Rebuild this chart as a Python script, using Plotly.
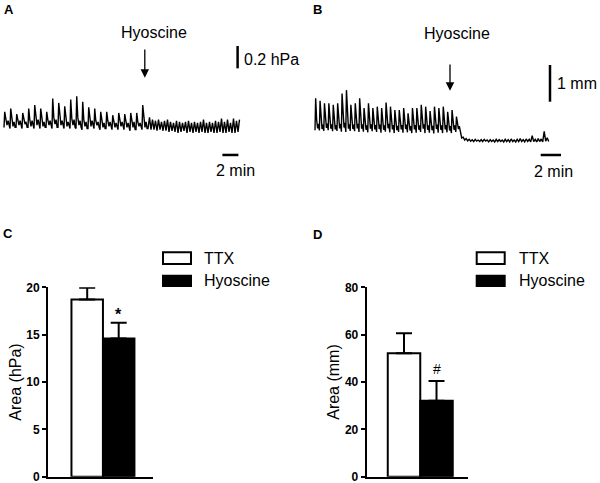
import plotly.graph_objects as go

W, H = 600, 483
FONT = "Liberation Sans, Arial, sans-serif"

# ---- panel A: pressure trace (hPa), per-cycle readings ----
a_pre_period = 0.75   # min per contraction before hyoscine
a_pre_trough = [0.05, 0.04, 0.05, 0.04, 0.05, 0.04, 0.04, 0.05, 0.04, 0.05, 0.04, 0.04,
                0.04, 0.03, 0.04, 0.04, 0.03, 0.04, 0.03, 0.03, 0.03, 0.02, 0.03, 0.03]
a_pre_peak = [0.19, 0.22, 0.17, 0.18, 0.22, 0.25, 0.22, 0.19, 0.31, 0.27, 0.24, 0.30,
              0.33, 0.28, 0.23, 0.22, 0.19, 0.19, 0.16, 0.18, 0.17, 0.18, 0.18, 0.25]
a_pre_shoulder = [0.13, 0.12, 0.12, 0.13, 0.12, 0.13, 0.12, 0.12, 0.14, 0.13, 0.12, 0.13,
                  0.14, 0.12, 0.12, 0.11, 0.12, 0.11, 0.11, 0.12, 0.10, 0.11, 0.10, 0.12]
a_pre_dip = [0.07, 0.06, 0.07, 0.08, 0.06, 0.07, 0.06, 0.07, 0.08, 0.07, 0.06, 0.07,
             0.07, 0.06, 0.06, 0.07, 0.05, 0.06, 0.05, 0.06, 0.05, 0.05, 0.06, 0.05]
a_pre_bump = [0.11, 0.10, 0.11, 0.10, 0.11, 0.12, 0.10, 0.11, 0.12, 0.11, 0.10, 0.12,
              0.11, 0.10, 0.11, 0.10, 0.09, 0.10, 0.09, 0.10, 0.09, 0.10, 0.09, 0.10]
a_pre_low = [0.06, 0.05, 0.06, 0.05, 0.06, 0.05, 0.05, 0.06, 0.05, 0.06, 0.05, 0.05,
             0.05, 0.04, 0.05, 0.05, 0.04, 0.05, 0.04, 0.04, 0.04, 0.03, 0.04, 0.04]
a_post_period = 0.375
a_post_peak = [0.14, 0.12, 0.11, 0.12, 0.10, 0.11, 0.12, 0.10, 0.09, 0.11, 0.10, 0.09, 0.10,
               0.11, 0.09, 0.10, 0.09, 0.10, 0.12, 0.09, 0.10, 0.09, 0.11, 0.10, 0.13, 0.10,
               0.12, 0.09, 0.13, 0.11, 0.12]
a_post_trough = [0.04, 0.03, 0.03, 0.02, 0.03, 0.02, 0.02, 0.01, 0.02, 0.01, 0.00, 0.01, 0.02,
                 0.00, 0.01, 0.00, 0.01, 0.00, 0.01, 0.00, 0.00, 0.01, 0.00, 0.00, 0.01, 0.00,
                 0.00, 0.01, 0.00, 0.00, 0.01]

# ---- panel B: diameter trace (mm) ----
b_pre_period = 0.44
b_pre_trough = [0.35, 0.34, 0.33, 0.35, 0.32, 0.33, 0.31, 0.30, 0.33, 0.32, 0.30, 0.31, 0.29,
                0.32, 0.30, 0.28, 0.31, 0.29, 0.27, 0.30, 0.28, 0.29, 0.27, 0.28, 0.30, 0.27,
                0.28, 0.26, 0.28, 0.27, 0.29, 0.27, 0.30]
b_pre_peak = [1.22, 1.15, 1.08, 1.08, 1.04, 1.08, 1.35, 1.44, 1.04, 1.08, 1.22, 0.95, 1.08,
              0.95, 0.99, 0.95, 1.10, 0.99, 0.90, 0.90, 0.95, 0.81, 0.95, 0.95, 1.04, 0.99,
              0.87, 0.99, 0.95, 0.99, 0.85, 0.90, 0.72]
b_pre_shoulder = [0.62, 0.58, 0.60, 0.63, 0.57, 0.60, 0.66, 0.64, 0.58, 0.61, 0.62, 0.55, 0.60,
                  0.56, 0.58, 0.55, 0.61, 0.57, 0.54, 0.56, 0.58, 0.52, 0.57, 0.55, 0.60, 0.56,
                  0.53, 0.58, 0.55, 0.57, 0.52, 0.55, 0.50]
b_pre_dip = [0.40, 0.38, 0.41, 0.39, 0.37, 0.40, 0.42, 0.39, 0.38, 0.40, 0.39, 0.36, 0.39,
             0.37, 0.38, 0.36, 0.40, 0.37, 0.35, 0.37, 0.38, 0.34, 0.37, 0.36, 0.39, 0.36,
             0.35, 0.38, 0.36, 0.37, 0.34, 0.36, 0.38]
b_pre_bump = [0.52, 0.50, 0.53, 0.51, 0.49, 0.52, 0.55, 0.51, 0.50, 0.52, 0.51, 0.48, 0.51,
              0.49, 0.50, 0.48, 0.52, 0.49, 0.47, 0.49, 0.50, 0.46, 0.49, 0.48, 0.51, 0.48,
              0.47, 0.50, 0.48, 0.49, 0.46, 0.48, 0.46]
b_post_period = 0.3
b_post_peak = [0.30, 0.16, 0.12, 0.10, 0.09, 0.10, 0.08, 0.09, 0.10, 0.08, 0.09, 0.08, 0.10,
               0.09, 0.08, 0.10, 0.09, 0.11, 0.08, 0.10, 0.12, 0.09, 0.11, 0.10, 0.20, 0.10,
               0.12, 0.11, 0.32, 0.14]
b_post_trough = [0.14, 0.08, 0.06, 0.05, 0.04, 0.05, 0.04, 0.04, 0.05, 0.03, 0.04, 0.03, 0.04,
                 0.04, 0.03, 0.04, 0.03, 0.04, 0.03, 0.04, 0.04, 0.03, 0.04, 0.03, 0.04, 0.03,
                 0.04, 0.03, 0.05, 0.04]

# ---- panels C and D: summary bars ----
groups = ["TTX", "Hyoscine"]
area_hpa = [18.7, 14.6]
area_hpa_sem = [1.25, 1.65]
area_mm = [52.1, 32.1]
area_mm_sem = [8.5, 8.3]


def px(x):
    return x / W


def py(y):
    return (H - y) / H


def build_trace(period, cols, fracs, t0=0.0):
    t, v = [], []
    for i in range(len(cols[0])):
        for f, col in zip(fracs, cols):
            t.append(t0 + (i + f) * period)
            v.append(col[i])
    return t, v


ta, va = build_trace(a_pre_period,
                     [a_pre_trough, a_pre_peak, a_pre_shoulder, a_pre_dip, a_pre_bump, a_pre_low],
                     [0, 0.12, 0.3, 0.5, 0.68, 0.85])
a_split = len(a_pre_peak) * a_pre_period
t2, v2 = build_trace(a_post_period, [a_post_trough, a_post_peak], [0, 0.5], a_split)
ta += t2
va += v2

tb, vb = build_trace(b_pre_period, [b_pre_trough, b_pre_peak, b_pre_shoulder, b_pre_dip, b_pre_bump],
                     [0, 0.15, 0.38, 0.6, 0.8])
b_split = len(b_pre_peak) * b_pre_period
t2, v2 = build_trace(b_post_period, [b_post_peak, b_post_trough], [0, 0.5], b_split)
tb += t2
vb += v2

fig = go.Figure()
fig.add_trace(go.Scatter(x=ta, y=va, mode="lines", line=dict(color="black", width=1.4),
                         xaxis="x", yaxis="y"))
fig.add_trace(go.Scatter(x=tb, y=vb, mode="lines", line=dict(color="black", width=1.4),
                         xaxis="x2", yaxis="y2"))

bar_line = dict(color="black", width=2)
for xa, ya, vals, sems in [("x3", "y3", area_hpa, area_hpa_sem), ("x4", "y4", area_mm, area_mm_sem)]:
    for i, fill in enumerate(["white", "black"]):
        fig.add_trace(go.Bar(
            x=[groups[i]], y=[vals[i]], width=1.0, xaxis=xa, yaxis=ya,
            marker=dict(color=fill, line=bar_line),
            error_y=dict(type="data", symmetric=False, array=[sems[i]], arrayminus=[0],
                         color="black", thickness=2, width=8),
        ))

hidden = dict(visible=False, showgrid=False, zeroline=False, automargin=False)
bar_y = dict(showline=True, linewidth=2, linecolor="black", ticks="outside", ticklen=4,
             tickwidth=2, tickcolor="black", showgrid=False, zeroline=False,
             ticklabeloverflow="allow", automargin=False,
             tickfont=dict(family=FONT, size=12, color="black", weight="bold"),
             title_font=dict(family=FONT, size=16, color="black"), title_standoff=1)
bar_x = dict(showline=True, linewidth=2, linecolor="black", showticklabels=False, ticks="",
             showgrid=False, zeroline=False, type="category", automargin=False)

fig.update_layout(
    template="none",
    width=W, height=H, margin=dict(l=0, r=0, t=0, b=0, autoexpand=False),
    paper_bgcolor="white", plot_bgcolor="white", showlegend=False, barmode="overlay",
    font=dict(family=FONT, color="black"),
    xaxis=dict(domain=[0, 0.5], range=[-0.5, 37.0], anchor="y", **hidden),
    yaxis=dict(domain=[py(200), 1], range=[-0.601, 1.193], anchor="x", **hidden),
    xaxis2=dict(domain=[0.5, 1], range=[-1.5, 28.5], anchor="y2", **hidden),
    yaxis2=dict(domain=[py(200), 1], range=[-1.553, 3.896], anchor="x2", **hidden),
    xaxis3=dict(domain=[px(48), px(152.7)], range=[-1.245, 2.08], anchor="y3", **bar_x),
    yaxis3=dict(domain=[py(476.7), py(287.3)], range=[0, 20], anchor="x3",
                tickvals=[0, 5, 10, 15, 20], title_text="Area (hPa)", **bar_y),
    xaxis4=dict(domain=[px(366.7), px(468.3)], range=[-1.148, 1.978], anchor="y4", **bar_x),
    yaxis4=dict(domain=[py(476.7), py(287.3)], range=[0, 80], anchor="x4",
                tickvals=[0, 20, 40, 60, 80], title_text="Area (mm)", **bar_y),
)

txt = dict(family=FONT, size=16, color="black")
shapes = []
ann = []

# panel A decorations
shapes.append(dict(type="line", xref="x", yref="y", x0=29.2, x1=29.2, y0=0.58, y1=0.78,
                   line=dict(color="black", width=2.5)))
shapes.append(dict(type="line", xref="x", yref="y", x0=27.3, x1=29.3, y0=-0.197, y1=-0.197,
                   line=dict(color="black", width=2.5)))
ann.append(dict(xref="x", yref="y", x=29.8, y=0.655, text="0.2 hPa", showarrow=False,
                xanchor="left", font=txt))
ann.append(dict(xref="x", yref="y", x=28.9, y=-0.338, text="2 min", showarrow=False, font=txt))
ann.append(dict(xref="x", yref="y", x=18.7, y=0.903, text="Hyoscine", showarrow=False, font=txt))
ann.append(dict(xref="x", yref="y", axref="x", ayref="y", x=17.6, y=0.496, ax=17.6, ay=0.762,
                text="", showarrow=True, arrowhead=2, arrowsize=1.3, arrowwidth=1.3,
                arrowcolor="black"))

# panel B decorations
shapes.append(dict(type="line", xref="x2", yref="y2", x0=23.5, x1=23.5, y0=1.125, y1=2.125,
                   line=dict(color="black", width=2.5)))
shapes.append(dict(type="line", xref="x2", yref="y2", x0=22.57, x1=24.6, y0=-0.327, y1=-0.327,
                   line=dict(color="black", width=2.5)))
ann.append(dict(xref="x2", yref="y2", x=24.0, y=1.627, text="1 mm", showarrow=False,
                xanchor="left", font=txt))
ann.append(dict(xref="x2", yref="y2", x=23.83, y=-0.782, text="2 min", showarrow=False, font=txt))
ann.append(dict(xref="x2", yref="y2", x=14.17, y=2.99, text="Hyoscine", showarrow=False, font=txt))
ann.append(dict(xref="x2", yref="y2", axref="x2", ayref="y2", x=13.5, y=1.425, ax=13.5, ay=2.18,
                text="", showarrow=True, arrowhead=2, arrowsize=1.3, arrowwidth=1.3,
                arrowcolor="black"))

# significance marks
ann.append(dict(xref="x3", yref="y3", x="Hyoscine", y=area_hpa[1] + area_hpa_sem[1], text="*",
                showarrow=False, yanchor="bottom", yshift=-2,
                font=dict(family=FONT, size=16, color="black", weight="bold")))
ann.append(dict(xref="x4", yref="y4", x="Hyoscine", y=area_mm[1] + area_mm_sem[1], text="#",
                showarrow=False, yanchor="bottom", yshift=2,
                font=dict(family=FONT, size=14, color="black")))

# legends for C and D
for bx, tx in [(163, 202), (476.7, 516.7)]:
    for (y0, y1), fill, label in [((252.3, 264), "white", "TTX"), ((275.7, 286), "black", "Hyoscine")]:
        shapes.append(dict(type="rect", xref="paper", yref="paper", x0=px(bx), x1=px(bx + 28),
                           y0=py(y1), y1=py(y0), fillcolor=fill, line=dict(color="black", width=2)))
        ann.append(dict(xref="paper", yref="paper", x=px(tx), y=py((y0 + y1) / 2), text=label,
                        showarrow=False, xanchor="left", yanchor="middle", font=txt))

# panel letters
for lab, x, y in [("A", 8.5, 10), ("B", 317, 10), ("C", 7.5, 233), ("D", 317, 234.5)]:
    ann.append(dict(xref="paper", yref="paper", x=px(x), y=py(y), text=lab, showarrow=False,
                    xanchor="center", yanchor="middle",
                    font=dict(family=FONT, size=13, color="black", weight="bold")))

fig.update_layout(shapes=shapes, annotations=ann)
fig.write_html("out.html", config={"displayModeBar": False},
               post_script="document.body.style.margin = '0';")
